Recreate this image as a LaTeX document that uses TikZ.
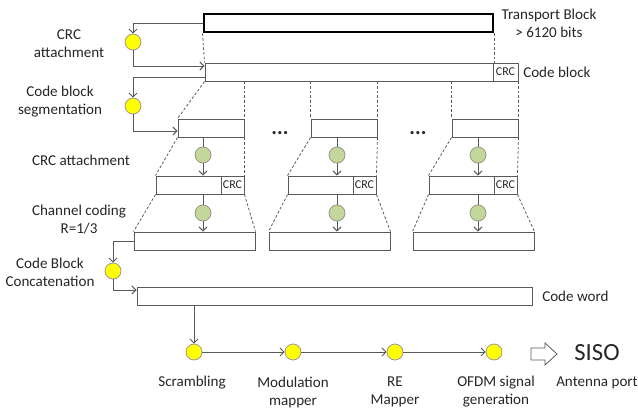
\documentclass[tikz,border=0pt]{standalone}
\usepackage{fontspec}
\setmainfont{Carlito}
\usepackage{tikz}
\usetikzlibrary{calc, positioning}
\usetikzlibrary{arrows.meta}
\tikzset{>={Straight Barb[length=3pt,width=6pt]}}
\usepackage{xcolor}
\definecolor{myyellow}{HTML}{FFFF00}
\definecolor{mygreen}{HTML}{C3D69B}
\definecolor{mygray}{HTML}{595959}
\definecolor{mytext}{HTML}{262626}

\begin{document}
\begin{tikzpicture}[x=0.75pt, y=-0.75pt, font=\fontsize{11.3}{13.5}\selectfont, text=mytext,
		blk/.style={draw=mygray, line width=0.7pt, fill=white, inner sep=0pt, minimum height=13.5pt},
		crc/.style={blk, minimum width=17.25pt, font=\fontsize{9}{10}\selectfont},
		ydot/.style={circle, draw=gray!80, fill=myyellow, line width=0.6pt, inner sep=0pt, minimum size=12pt},
		gdot/.style={circle, draw=gray!70!mygreen, fill=mygreen, line width=0.6pt, inner sep=0pt, minimum size=12pt},
		flow/.style={draw=mygray, line width=0.7pt, ->},
		cut/.style={draw=mygray, line width=0.6pt, dash pattern=on 2pt off 1.5pt},
		lbl/.style={align=center}]
			\useasboundingbox (0,0) rectangle (638,410);
			\node[blk, draw=black, line width=2.2pt, minimum width=216.75pt] (tb) at (348.5,23) {};
			\node[blk, minimum width=234.75pt] (cb) at (361.5,72) {};
			\node[crc, minimum width=18.75pt] (cbc) at (505.5,72) {CRC};
			\node[blk, minimum width=49.5pt] (seg1) at (211,128) {};
			\node[blk, minimum width=49.5pt] (seg2) at (344,128) {};
			\node[blk, minimum width=49.5pt] (seg3) at (485,128) {};
			\node[blk, minimum width=66pt] (cr1) at (200,185) {};
			\node[crc] (cr1c) at (232.5,185) {CRC};
			\node[blk, minimum width=66pt] (cr2) at (332,185) {};
			\node[crc] (cr2c) at (364.5,185) {CRC};
			\node[blk, minimum width=66pt] (cr3) at (473,185) {};
			\node[crc] (cr3c) at (505.5,185) {CRC};
			\node[blk, minimum width=90.75pt] (cd1) at (194.5,241) {};
			\node[blk, minimum width=90.75pt] (cd2) at (329.5,241) {};
			\node[blk, minimum width=90.75pt] (cd3) at (473.5,241) {};
			\node[blk, minimum width=296.25pt] (cw) at (334.5,296) {};
			\node[ydot] (ya) at (133,42) {};
			\node[ydot] (yb) at (133,106) {};
			\node[ydot] (yc) at (113,271) {};
			\node[ydot] (s1) at (194,352) {};
			\node[ydot] (s2) at (293,352) {};
			\node[ydot] (s3) at (395,352) {};
			\node[ydot] (s4) at (494,352) {};
			\node[gdot] (ga1) at (203,155) {};
			\node[gdot] (ga2) at (337,155) {};
			\node[gdot] (ga3) at (478,155) {};
			\node[gdot] (gb1) at (203,213) {};
			\node[gdot] (gb2) at (337,213) {};
			\node[gdot] (gb3) at (478,213) {};
			\draw[flow] (tb.west) -| (ya);
			\draw[flow] (ya) |- ([yshift=4.5pt]cb.west);
			\draw[flow] ([yshift=-3.75pt]cb.west) -| (yb);
			\draw[flow] (yb) |- ([yshift=-2.25pt]seg1.west);
			\draw[flow] (cd1.west) -| (yc);
			\draw[flow] (yc) |- ([yshift=4.5pt]cw.west);
			\draw[flow] (cw.south -| s1) -- (s1);
			\draw[flow] (s1) -- (s2);
			\draw[flow] (s2) -- (s3);
			\draw[flow] (s3) -- (s4);
			\draw[flow, -] (seg1.south -| ga1) -- (ga1);
			\draw[flow] (ga1) -- (ga1 |- cr1.north);
			\draw[flow, -] (seg2.south -| ga2) -- (ga2);
			\draw[flow] (ga2) -- (ga2 |- cr2.north);
			\draw[flow, -] (seg3.south -| ga3) -- (ga3);
			\draw[flow] (ga3) -- (ga3 |- cr3.north);
			\draw[flow, -] (cr1.south -| gb1) -- (gb1);
			\draw[flow] (gb1) -- (gb1 |- cd1.north);
			\draw[flow, -] (cr2.south -| gb2) -- (gb2);
			\draw[flow] (gb2) -- (gb2 |- cd2.north);
			\draw[flow, -] (cr3.south -| gb3) -- (gb3);
			\draw[flow] (gb3) -- (gb3 |- cd3.north);
			\draw[cut] (tb.south west) -- (cb.north west);
			\draw[cut] (tb.south east) -- (tb.south east |- cb.north);
			\draw[cut] (cb.south west) -- (seg1.north west);
			\draw[cut] (seg1.north east |- cb.south) -- (seg1.north east);
			\draw[cut] (seg2.north west |- cb.south) -- (seg2.north west);
			\draw[cut] (seg2.north east |- cb.south) -- (seg2.north east);
			\draw[cut] (seg3.north west |- cb.south) -- (seg3.north west);
			\draw[cut] (seg3.north east |- cb.south) -- (seg3.north east);
			\draw[cut] (seg1.south west) -- (cr1.north west);
			\draw[cut] (seg1.south east) -- (cr1.north east);
			\draw[cut] (seg2.south west) -- (cr2.north west);
			\draw[cut] (seg2.south east) -- (cr2.north east);
			\draw[cut] (seg3.south west) -- (cr3.north west);
			\draw[cut] (seg3.south east) -- (cr3.north east);
			\draw[cut] (cr1.south west) -- (cd1.north west);
			\draw[cut] (cr1.south east) -- (cd1.north east);
			\draw[cut] (cr2.south west) -- (cd2.north west);
			\draw[cut] (cr2.south east) -- (cd2.north east);
			\draw[cut] (cr3.south west) -- (cd3.north west);
			\draw[cut] (cr3.south east) -- (cd3.north east);
			\node[lbl] (tbl) at (549,23.5) {Transport Block\\> 6120 bits};
			\node[right, inner sep=0pt] (cbl) at (523,72.5) {Code block};
			\node[right, inner sep=0pt] (cwl) at (542,296.5) {Code word};
			\node[lbl] (l1) at (69,43.5) {CRC\\attachment};
			\node[lbl] (l2) at (60,101.5) {Code block\\segmentation};
			\node[lbl] (l3) at (81,160) {CRC attachment};
			\node[lbl] (l4) at (79,220) {Channel coding\\R=1/3};
			\node[lbl] (l5) at (50,272.5) {Code Block\\Concatenation};
			\node (dots1) at (280,133) {\bfseries\fontsize{16}{16}\selectfont ...};
			\node (dots2) at (418,133) {\bfseries\fontsize{16}{16}\selectfont ...};
			\node[lbl] (l6) at (192,383) {Scrambling};
			\node[lbl] (l7) at (293,392) {Modulation\\mapper};
			\node[lbl] (l8) at (395,392) {RE\\Mapper};
			\node[lbl] (l9) at (496,392) {OFDM signal\\generation};
			\node[lbl] (l10) at (597,383) {Antenna port};
			\node (siso) at (597,353) {\fontsize{18.5}{20}\selectfont SISO};
			\draw[mygray, line width=0.6pt] (531,348) -- (545,348) -- (545,343) -- (557,354) -- (545,365) -- (545,360) -- (531,360) -- cycle;
\end{tikzpicture}
\end{document}
